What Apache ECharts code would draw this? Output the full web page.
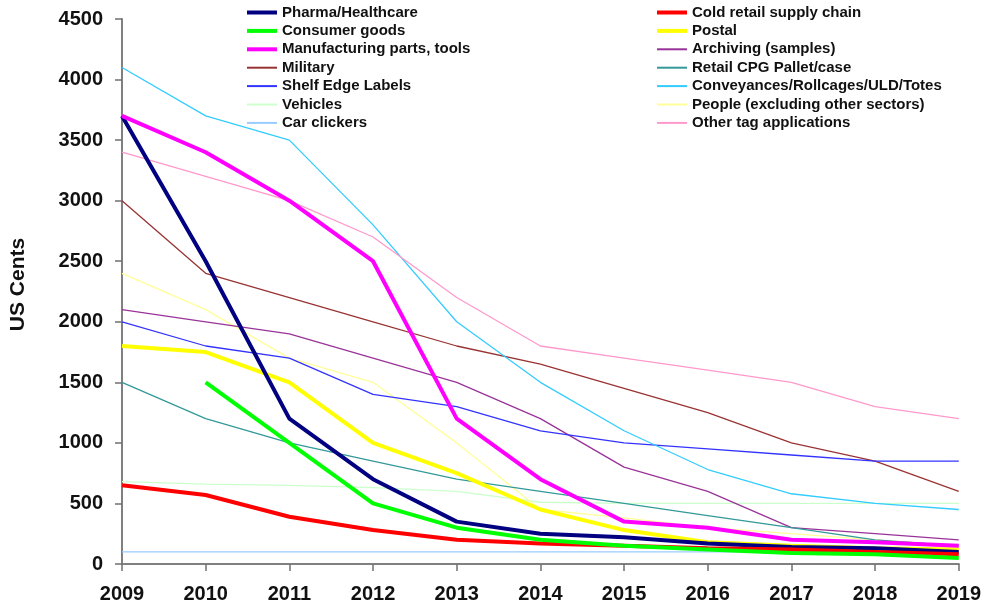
<!DOCTYPE html>
<html><head><meta charset="utf-8">
<script src="https://cdn.jsdelivr.net/npm/echarts@6/dist/echarts.min.js"></script>
<style>html,body{margin:0;padding:0;background:#fff}#c{width:984px;height:610px}</style>
</head><body><div id="c"></div>
<script>
const years = ['2009','2010','2011','2012','2013','2014','2015','2016','2017','2018','2019'];
const yTicks = [0,500,1000,1500,2000,2500,3000,3500,4000,4500];
const pharma        = [3700,2500,1200,700,350,250,220,170,140,130,100];
const coldRetail    = [650,570,390,280,200,170,150,130,120,100,80];
const consumer      = [null,1500,1000,500,300,200,150,120,90,80,50];
const postal        = [1800,1750,1500,1000,750,450,280,180,150,130,120];
const manufacturing = [3700,3400,3000,2500,1200,700,350,300,200,180,150];
const archiving     = [2100,2000,1900,1700,1500,1200,800,600,300,250,200];
const military      = [3000,2400,2200,2000,1800,1650,1450,1250,1000,850,600];
const retailCPG     = [1500,1200,1000,850,700,600,500,400,300,200,150];
const shelfEdge     = [2000,1800,1700,1400,1300,1100,1000,950,900,850,850];
const conveyances   = [4100,3700,3500,2800,2000,1500,1100,780,580,500,450];
const vehicles      = [680,660,650,630,600,510,500,500,500,500,500];
const people        = [2400,2100,1700,1500,1000,450,380,300,250,200,150];
const carClickers   = [100,100,100,100,100,100,100,100,100,100,100];
const otherTag      = [3400,3200,3000,2700,2200,1800,1700,1600,1500,1300,1200];

const defs = [
  ['Pharma/Healthcare', pharma, '#000080', 4, 10],
  ['Cold retail supply chain', coldRetail, '#FF0000', 4, 10],
  ['Consumer goods', consumer, '#00FF00', 4, 10],
  ['Postal', postal, '#FFFF00', 4, 9],
  ['Manufacturing parts, tools', manufacturing, '#FF00FF', 4, 10],
  ['Archiving (samples)', archiving, '#993399', 1.3, 5],
  ['Military', military, '#993333', 1.3, 5],
  ['Retail CPG Pallet/case', retailCPG, '#339999', 1.3, 5],
  ['Shelf Edge Labels', shelfEdge, '#3333FF', 1.3, 5],
  ['Conveyances/Rollcages/ULD/Totes', conveyances, '#33CCFF', 1.3, 5],
  ['Vehicles', vehicles, '#CCFFCC', 1.3, 4],
  ['People (excluding other sectors)', people, '#FFFF99', 1.3, 4],
  ['Car clickers', carClickers, '#99CCFF', 1.3, 4],
  ['Other tag applications', otherTag, '#FF99CC', 1.3, 5]
];
const legendItem = d => ({name:d[0], lineStyle:{color:d[2], width: d[3] > 2 ? 4 : 2}});
const leftItems = defs.filter((d,i)=>i%2===0).map(legendItem);
const rightItems = defs.filter((d,i)=>i%2===1).map(legendItem);

const FONT = 'Liberation Sans, Arial, sans-serif';
function legendCfg(left, items){
  return {
    orient:'vertical', top:5, left:left, itemWidth:30, itemHeight:14, itemGap:3.4,
    itemStyle:{opacity:0, borderWidth:0},
    textStyle:{fontFamily:FONT, fontWeight:'bold', fontSize:15, color:'#111', lineHeight:14},
    selectedMode:false, padding:0, data:items
  };
}

const chart = echarts.init(document.getElementById('c'), null, {renderer:'canvas'});
chart.setOption({
  animation:false,
  backgroundColor:'#fff',
  grid:{left:121, right:22, top:19, bottom:46, containLabel:false},
  legend:[ legendCfg(245, leftItems), legendCfg(655, rightItems) ],
  xAxis:{
    type:'category', data:years, boundaryGap:false,
    axisLine:{lineStyle:{color:'#808080', width:2}},
    axisTick:{show:true, length:7, lineStyle:{color:'#707070', width:1.5}},
    axisLabel:{fontFamily:FONT, fontWeight:'bold', fontSize:20, color:'#111', margin:20}
  },
  yAxis:{
    type:'value', min:0, max:4500, interval:500,
    name:'US Cents', nameLocation:'middle', nameGap:93, nameRotate:90,
    nameTextStyle:{fontFamily:FONT, fontWeight:'bold', fontSize:21, color:'#111', padding:[0,0,0,14]},
    axisLine:{show:true, lineStyle:{color:'#808080', width:2}},
    axisTick:{show:true, length:7, lineStyle:{color:'#707070', width:1.5}},
    splitLine:{show:false},
    axisLabel:{fontFamily:FONT, fontWeight:'bold', fontSize:20, color:'#111', margin:19,
      formatter:function(v){return yTicks.indexOf(v)>=0 ? String(v) : '';}}
  },
  series: defs.map(d=>({
    name:d[0], type:'line', data:d[1], symbol:'none', showSymbol:false,
    color:d[2], z:d[4],
    lineStyle:{color:d[2], width:d[3]},
    connectNulls:false
  }))
});
</script></body></html>
